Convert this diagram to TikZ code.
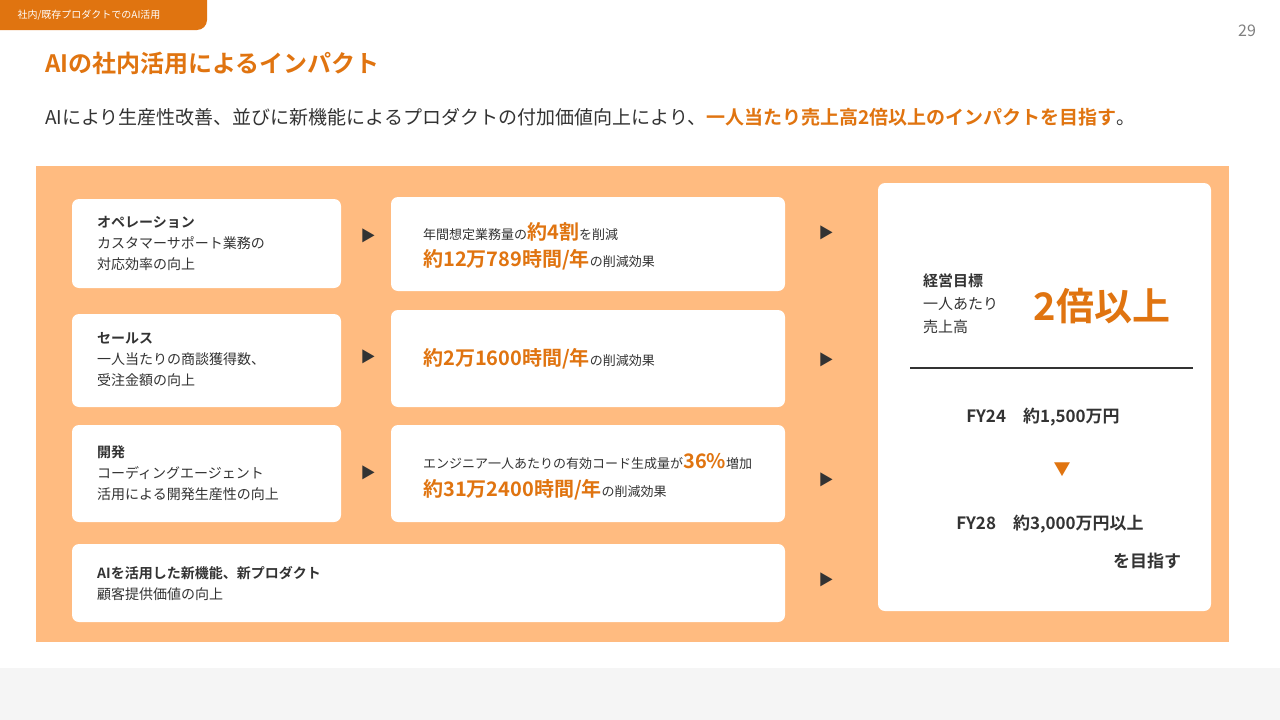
\documentclass[tikz,border=0pt]{standalone}
\usepackage{fontspec}
\setmainfont{Noto Sans CJK JP}
\newfontfamily\bfj{Noto Sans CJK JP Bold}
\definecolor{org}{HTML}{E07410}
\definecolor{pan}{HTML}{FFBB80}
\definecolor{txt}{HTML}{333333}
\definecolor{gry}{HTML}{F5F5F5}
\begin{document}
\begin{tikzpicture}[x=1pt,y=-1pt,
 wbox/.style={fill=white,rounded corners=7pt,draw=none},
 lbl/.style={anchor=west,align=left,text=txt,font=\fontsize{14}{21}\selectfont,inner sep=0},
 tri/.style={text=txt,font=\fontsize{15}{15}\selectfont,inner sep=0}]
\useasboundingbox (0,0) rectangle (1280,720);
\fill[white] (0,0) rectangle (1280,720);
\fill[gry] (0,668) rectangle (1280,720);
\fill[org] (0,0) -- (207,0) -- (207,20) arc[start angle=0,end angle=90,radius=10] -- (0,30) -- cycle;
\node[anchor=west,text=white,font=\fontsize{10}{10}\selectfont] (tag) at (14,15) {社内/既存プロダクトでのAI活用};
\node[text=gray,font=\fontsize{16}{16}\selectfont] (pg) at (1247,31) {29};
\node[anchor=west,inner sep=0,text=org,font=\bfj\fontsize{24}{24}\selectfont] (title) at (45,63) {AIの社内活用によるインパクト};
\node[anchor=west,inner sep=0,text=txt,font=\fontsize{19}{19}\selectfont] (sub) at (45,117) {AIにより生産性改善、並びに新機能によるプロダクトの付加価値向上により、{\bfj\color{org}一人当たり売上高2倍以上のインパクトを目指す}。};
\fill[pan] (36,166) rectangle (1229,642);
% left boxes
\path[wbox] (72,199) rectangle (341,288);
\path[wbox] (72,314) rectangle (341,407);
\path[wbox] (72,425) rectangle (341,522);
\path[wbox] (72,544) rectangle (785,622);
\node[lbl] (l1) at (97,243) {{\bfj オペレーション}\\カスタマーサポート業務の\\対応効率の向上};
\node[lbl] (l2) at (97,360) {{\bfj セールス}\\一人当たりの商談獲得数、\\受注金額の向上};
\node[lbl] (l3) at (97,473) {{\bfj 開発}\\コーディングエージェント\\活用による開発生産性の向上};
\node[lbl] (l4) at (97,583) {{\bfj AIを活用した新機能、新プロダクト}\\顧客提供価値の向上};
% middle boxes
\path[wbox] (391,197) rectangle (785,291);
\path[wbox] (391,310) rectangle (785,407);
\path[wbox] (391,425) rectangle (785,522);
\node[lbl,font=\fontsize{13}{13}\selectfont] (m1a) at (423,232) {年間想定業務量の{\bfj\color{org}\fontsize{20}{20}\selectfont 約4割}を削減};
\node[lbl,font=\fontsize{13}{13}\selectfont] (m1b) at (423,260) {{\bfj\color{org}\fontsize{20}{20}\selectfont 約12万789時間/年}の削減効果};
\node[lbl,font=\fontsize{13}{13}\selectfont] (m2) at (423,359) {{\bfj\color{org}\fontsize{20}{20}\selectfont 約2万1600時間/年}の削減効果};
\node[lbl,font=\fontsize{13}{13}\selectfont] (m3a) at (423,462) {エンジニア一人あたりの有効コード生成量が{\bfj\color{org}\fontsize{20}{20}\selectfont 36\%}増加};
\node[lbl,font=\fontsize{13}{13}\selectfont] (m3b) at (423,490) {{\bfj\color{org}\fontsize{20}{20}\selectfont 約31万2400時間/年}の削減効果};
% triangles
\node[tri] (t1) at (368,236) {▶};
\node[tri] (t2) at (368,357) {▶};
\node[tri] (t3) at (368,473) {▶};
\node[tri] (u1) at (826,233) {▶};
\node[tri] (u2) at (826,360) {▶};
\node[tri] (u3) at (826,480) {▶};
\node[tri] (u4) at (826,580) {▶};
% right box
\path[wbox] (878,183) rectangle (1211,611);
\node[lbl,font=\fontsize{15}{23}\selectfont] (goal) at (923,304) {{\bfj 経営目標}\\一人あたり\\売上高};
\node[inner sep=0,text=org,font=\bfj\fontsize{38}{38}\selectfont] (x2) at (1102,306) {2倍以上};
\draw[txt,line width=1.5pt] (910,368) -- (1193,368);
\node[inner sep=0,text=txt,font=\bfj\fontsize{17}{17}\selectfont] (fy24) at (1043,417) {FY24\quad 約1,500万円};
\node[inner sep=0,text=org,font=\fontsize{17}{17}\selectfont] (dn) at (1062,470) {▼};
\node[inner sep=0,text=txt,font=\bfj\fontsize{17}{17}\selectfont] (fy28) at (1050,524) {FY28\quad 約3,000万円以上};
\node[inner sep=0,text=txt,font=\bfj\fontsize{17}{17}\selectfont] (aim) at (1147,561) {を目指す};
\end{tikzpicture}
\end{document}
